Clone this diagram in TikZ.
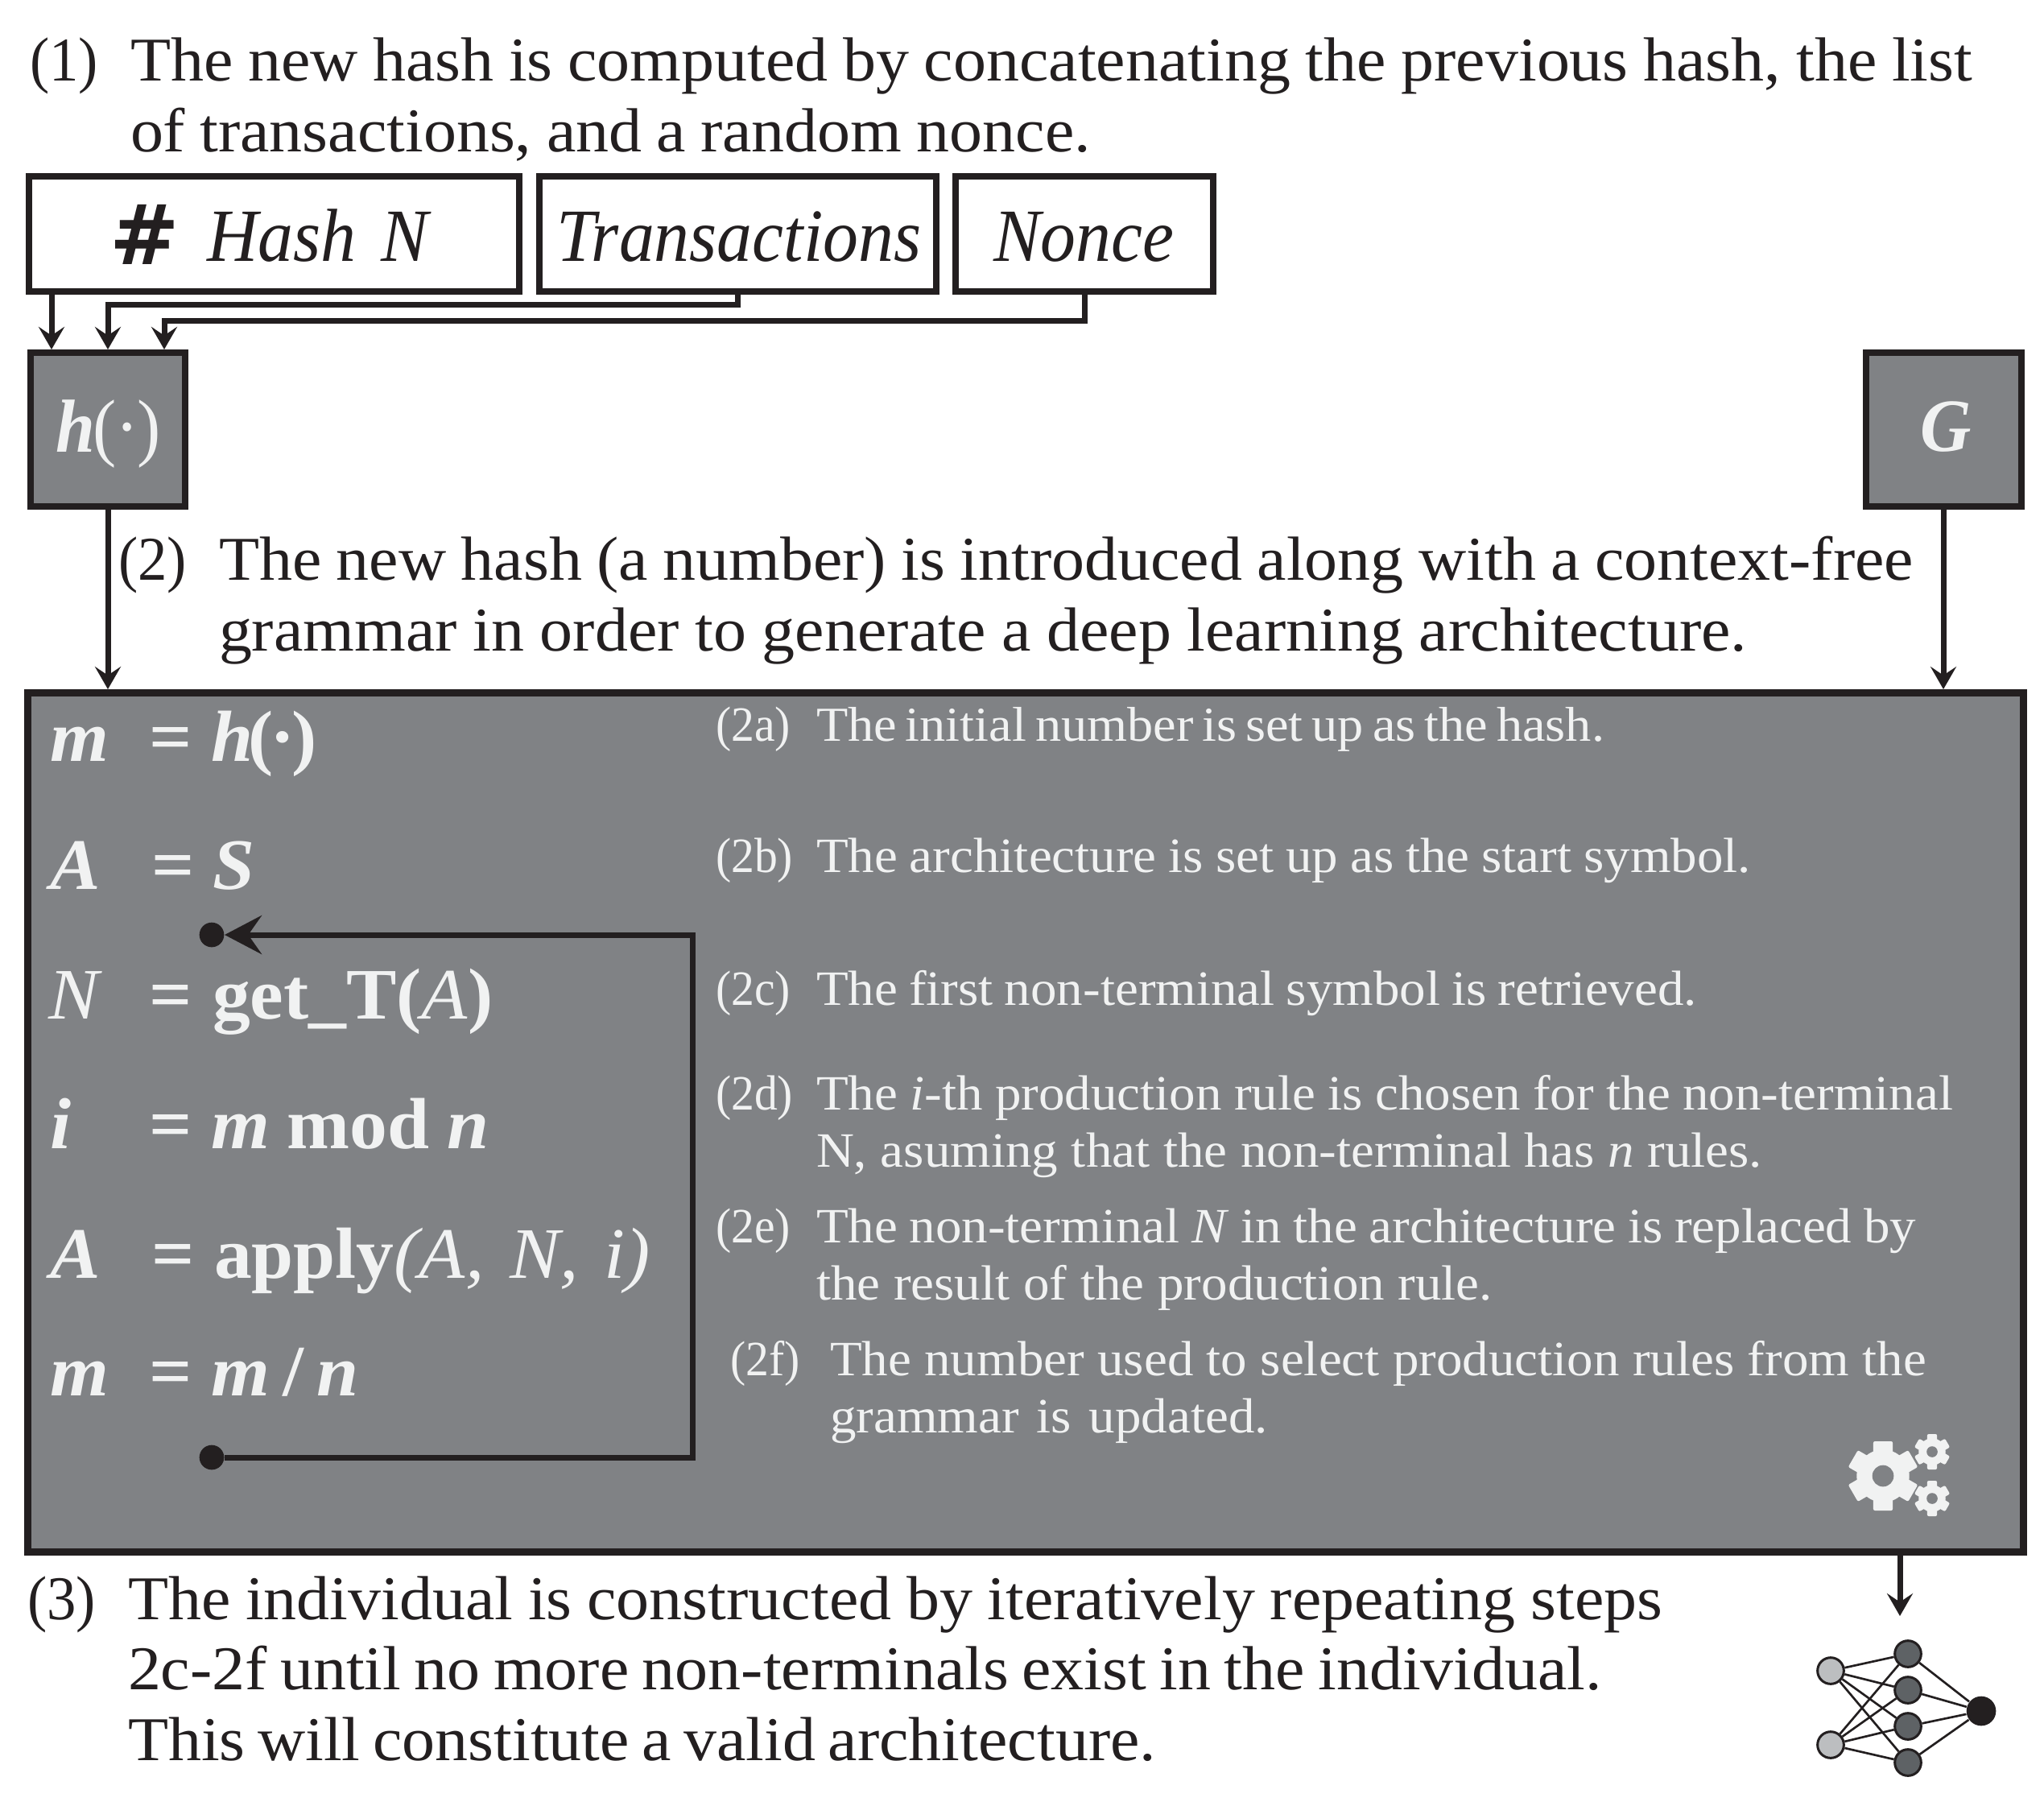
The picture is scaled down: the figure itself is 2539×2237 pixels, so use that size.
\documentclass[tikz,border=0pt]{standalone}
\usepackage{fontspec}
\setmainfont[FakeStretch=1.06]{Liberation Serif}
\newfontfamily\narrowf[FakeStretch=.94]{Liberation Serif}
\newfontfamily\eqf[FakeStretch=1.04]{Liberation Serif}
\newfontfamily\iconfont{DejaVu Sans}
\usetikzlibrary{arrows.meta,calc}
\definecolor{ink}{HTML}{231F20}
\definecolor{panel}{HTML}{808285}
\definecolor{pale}{HTML}{F1F2F2}
\definecolor{inp}{HTML}{BCBEC0}
\definecolor{hid}{HTML}{5E6265}
\newcommand{\bodysize}{\fontsize{23.2}{27}\selectfont}
\newcommand{\smallsize}{\fontsize{18.4}{21}\selectfont}
\newcommand{\eqsize}{\fontsize{27}{32}\selectfont}
\newcommand{\boxsize}{\fontsize{28}{33}\selectfont}
\newcommand{\fitline}[2]{\makebox[\dimexpr#1\dimexpr.3pt\relax\relax][s]{#2}}
\newcommand{\gearat}[3]{%
  \begin{scope}[shift={(#1,#2)}]
    \fill[pale] (0,0) circle ({.76*#3});
    \foreach \ang in {0,60,120}{
      \fill[pale,rotate=\ang,rounded corners=.6pt] ({-.28*#3},{-#3}) rectangle ({.28*#3},{#3});
    }
    \fill[panel] (0,0) circle ({.31*#3});
  \end{scope}}
\tikzset{
  x=.3pt,y=-.3pt,
  txt/.style={anchor=base west,inner sep=0pt,outer sep=0pt,text=ink,font=\bodysize},
  ltxt/.style={anchor=base west,inner sep=0pt,outer sep=0pt,text=ink,font=\narrowf\bodysize},
  ptxt/.style={anchor=base west,inner sep=0pt,outer sep=0pt,text=pale,font=\smallsize},
  pltxt/.style={anchor=base west,inner sep=0pt,outer sep=0pt,text=pale,font=\narrowf\smallsize},
  etxt/.style={anchor=base west,inner sep=0pt,outer sep=0pt,text=pale,font=\eqf\eqsize},
  btxt/.style={anchor=base west,inner sep=0pt,outer sep=0pt,text=ink,font=\narrowf\boxsize\itshape},
  whitebox/.style={draw=ink,fill=white,line width=2.4pt,inner sep=0pt},
  graybox/.style={draw=ink,fill=panel,line width=2.4pt,inner sep=0pt},
  arr/.style={draw=ink,line width=2.1pt,-{Stealth[length=8.4pt,width=9.6pt,inset=3.2pt]}},
  looparr/.style={draw=ink,line width=2.1pt,line join=miter,-{Stealth[length=13.8pt,width=14.4pt,inset=5pt]}},
  dotn/.style={circle,fill=ink,inner sep=0pt,minimum size=9.2pt},
  nnlink/.style={draw=ink,line width=.8pt},
  nin/.style={circle,draw=ink,fill=inp,line width=.9pt,inner sep=0pt,minimum size=9.8pt},
  nhid/.style={circle,draw=ink,fill=hid,line width=.9pt,inner sep=0pt,minimum size=9.8pt},
  nout/.style={circle,fill=ink,inner sep=0pt,minimum size=11pt},
}
\begin{document}
\begin{tikzpicture}
\useasboundingbox (0,0) rectangle (2539,2237);
\fill[white] (0,0) rectangle (2539,2237);

% step 1 text
\node[ltxt] (n1) at (37,100) {(1)};
\node[txt] (t1a) at (162,100) {\fitline{2288}{The new hash is computed by concatenating the previous hash, the list}};
\node[txt] (t1b) at (162,188) {\fitline{1193}{of transactions, and a random nonce.}};

% input boxes
\node[whitebox,minimum width=182.7pt,minimum height=42.9pt] (hash) at (340.5,290.5) {};
\node[whitebox,minimum width=147.9pt,minimum height=42.9pt] (trans) at (916.5,290.5) {};
\node[whitebox,minimum width=96pt,minimum height=42.9pt] (nonce) at (1347,290.5) {};
\node[anchor=base west,inner sep=0pt,text=ink,font=\fontsize{31}{36}\selectfont\iconfont\bfseries] (hashicon) at (136,328) {\#};
\node[btxt] (hashlab) at (257,324) {\fitline{275}{Hash N}};
\node[btxt] (translab) at (691,324) {Transactions};
\node[btxt] (noncelab) at (1234,324) {Nonce};

% hash + grammar boxes
\node[graybox,minimum width=57.6pt,minimum height=57.3pt] (hbox) at (134,533.5) {};
\node[graybox,minimum width=57.9pt,minimum height=57.3pt] (gbox) at (2414,533.5) {};
\node[anchor=base west,inner sep=0pt,text=pale,font=\narrowf\boxsize] (hlab) at (69,561) {\textbf{\textit{h}}\kern-.8pt(\kern-.6pt·\kern-.6pt)};
\node[anchor=base west,inner sep=0pt,text=pale,font=\narrowf\boxsize\itshape\bfseries] (glab) at (2385,560) {G};

\coordinate (h1) at (64,434);
\coordinate (h2) at (134,434);
\coordinate (h3) at (204,434);
\coordinate (c2) at (134,378);
\coordinate (c3) at (204,398);
\draw[arr] (hash.south -| h1) -- (h1);
\draw[arr] (trans.south) |- (c2) -- (h2);
\draw[arr] (nonce.south) |- (c3) -- (h3);

% step 2 text
\node[ltxt] (n2) at (147,720) {(2)};
\node[txt] (t2a) at (272,720) {\fitline{2105}{The new hash (a number) is introduced along with a context-free}};
\node[txt] (t2b) at (272,808) {\fitline{1898}{grammar in order to generate a deep learning architecture.}};

% main panel
\node[graybox,line width=2.7pt,minimum width=743.55pt,minimum height=319.95pt] (main) at (1273.75,1393.75) {};
\draw[arr] (hbox.south) -- (hbox.south |- main.north);
\draw[arr] (gbox.south) -- (gbox.south |- main.north);

% equations
\node[etxt] (e1l) at (62,945) {\textbf{\textit{m}}};
\node[etxt] (e1e) at (185,945) {\textbf{=}};
\node[etxt] (e1r) at (262,945) {\textbf{\textit{h}\kern-1.8pt(\kern-1.2pt·\kern-1.2pt)}};
\node[etxt] (e2l) at (62,1104) {\textbf{\textit{A}}};
\node[etxt] (e2e) at (188,1104) {\textbf{=}};
\node[etxt] (e2r) at (264,1104) {\textbf{\textit{S}}};
\node[etxt] (e3l) at (60,1265) {\textit{N}};
\node[etxt] (e3e) at (185,1265) {\textbf{=}};
\node[etxt] (e3r) at (264,1265) {\textbf{get\_T(}\textit{A}\textbf{)}};
\node[etxt] (e4l) at (62,1426) {\textbf{\textit{i}}};
\node[etxt] (e4e) at (185,1426) {\textbf{=}};
\node[etxt] (e4r) at (262,1426) {\fitline{346}{\textbf{\textit{m} mod \textit{n}}}};
\node[etxt] (e5l) at (62,1587) {\textbf{\textit{A}}};
\node[etxt] (e5e) at (188,1587) {\textbf{=}};
\node[etxt] (e5r) at (266,1587) {\fitline{542}{\textbf{apply}\textit{(A, N, i)}}};
\node[etxt] (e6l) at (62,1733) {\textbf{\textit{m}}};
\node[etxt] (e6e) at (185,1733) {\textbf{=}};
\node[etxt] (e6r) at (262,1733) {\fitline{184}{\textbf{\textit{m} / \textit{n}}}};

% loop
\node[dotn] (d1) at (263,1161) {};
\node[dotn] (d2) at (263,1810) {};
\coordinate (lb) at (860,1810);
\coordinate (lt) at (860,1161);
\draw[looparr] (d2.east) -- (lb) -- (lt) -- (d1.east);

% panel texts
\node[pltxt] (p2a) at (889,920) {(2a)};
\node[ptxt] (q2a) at (1014,920) {\fontsize{18.2}{21}\selectfont\fitline{979}{The initial number is set up as the hash.}};
\node[pltxt] (p2b) at (889,1083) {(2b)};
\node[ptxt] (q2b) at (1014,1083) {\fitline{1161}{The architecture is set up as the start symbol.}};
\node[pltxt] (p2c) at (889,1248) {(2c)};
\node[ptxt] (q2c) at (1014,1248) {\fitline{1094}{The first non-terminal symbol is retrieved.}};
\node[pltxt] (p2d) at (889,1378) {(2d)};
\node[ptxt] (q2d) at (1014,1378) {\fitline{1412}{The \textit{i}-th production rule is chosen for the non-terminal}};
\node[ptxt] (q2dd) at (1014,1449) {\fitline{1175}{N, asuming that the non-terminal has \textit{n} rules.}};
\node[pltxt] (p2e) at (889,1543) {(2e)};
\node[ptxt] (q2e) at (1014,1543) {\fitline{1366}{The non-terminal \textit{N} in the architecture is replaced by}};
\node[ptxt] (q2ee) at (1014,1614) {\fitline{840}{the result of the production rule.}};
\node[pltxt] (p2f) at (907,1708) {(2f)};
\node[ptxt] (q2f) at (1031,1708) {\fitline{1362}{The number used to select production rules from the}};
\node[ptxt] (q2ff) at (1031,1779) {\fitline{544}{grammar is updated.}};

% gears
\gearat{2339}{1833}{43}
\gearat{2400}{1803}{22}
\gearat{2400}{1861}{22}

% step 3 text
\node[ltxt] (n3) at (34,2011) {(3)};
\node[txt] (t3a) at (159,2011) {\fitline{1906}{The individual is constructed by iteratively repeating steps}};
\node[txt] (t3b) at (159,2098) {\fitline{1831}{2c-2f until no more non-terminals exist in the individual.}};
\node[txt] (t3c) at (159,2186) {\fitline{1277}{This will constitute a valid architecture.}};

% network
\node[nin] (i1) at (2274,2075) {};
\node[nin] (i2) at (2274,2167) {};
\node[nhid] (m1) at (2370,2054) {};
\node[nhid] (m2) at (2370,2099) {};
\node[nhid] (m3) at (2370,2144) {};
\node[nhid] (m4) at (2370,2189) {};
\node[nout] (o1) at (2461,2125) {};
\foreach \a in {i1,i2}{\foreach \b in {m1,m2,m3,m4}{\draw[nnlink] (\a) -- (\b);}}
\foreach \b in {m1,m2,m3,m4}{\draw[nnlink] (\b) -- (o1);}
\coordinate (nnin) at (2360,2007);
\draw[arr] (main.south -| nnin) -- (nnin);
\end{tikzpicture}
\end{document}
